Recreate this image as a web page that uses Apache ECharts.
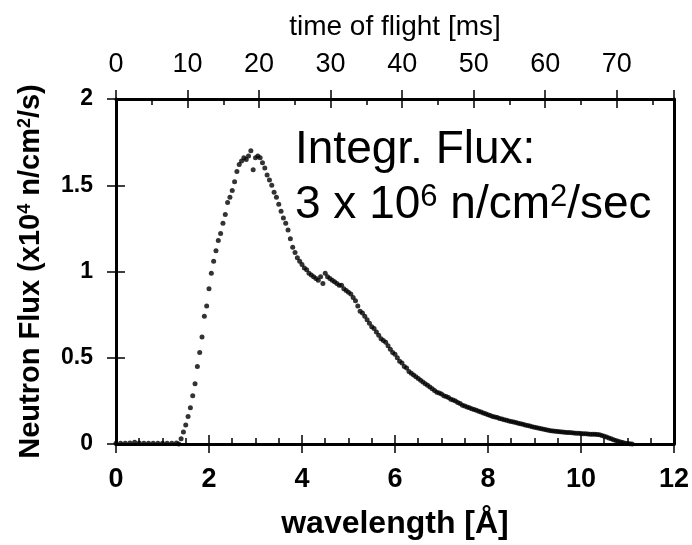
<!DOCTYPE html>
<html>
<head>
<meta charset="utf-8">
<script src="https://cdn.jsdelivr.net/npm/echarts@6/dist/echarts.min.js"></script>
<style>
html, body { margin: 0; padding: 0; background: #fff; }
#main { width: 692px; height: 545px; }
</style>
</head>
<body>
<div id="main"></div>
<script>
// wavelength [Å] of each measured point
const wavelength = [
  0, 0.1, 0.2, 0.3, 0.4, 0.5, 0.6, 0.7, 0.8, 0.9, 1.0, 1.1, 1.2, 1.3,
  1.35, 1.40, 1.45, 1.50, 1.55, 1.60, 1.65, 1.70, 1.75, 1.80, 1.85, 1.90, 1.95, 2.00, 2.05, 2.10, 2.15, 2.20, 2.25, 2.30,
  2.35, 2.40, 2.45, 2.50, 2.55, 2.60, 2.65, 2.70, 2.75, 2.80, 2.85, 2.90, 2.95, 3.00, 3.05, 3.10, 3.15, 3.20, 3.25, 3.30,
  3.35, 3.40, 3.45, 3.50, 3.55, 3.60, 3.65, 3.70, 3.75, 3.80, 3.85, 3.90, 3.95, 4.00, 4.05, 4.10, 4.15, 4.20, 4.25, 4.30,
  4.35, 4.40, 4.45, 4.50, 4.55, 4.60, 4.65, 4.70, 4.75, 4.80, 4.85, 4.90, 4.95, 5.00, 5.05, 5.10, 5.15, 5.20, 5.25, 5.30,
  5.35, 5.40, 5.45, 5.50, 5.55, 5.60, 5.65, 5.70, 5.75, 5.80, 5.85, 5.90, 5.95, 6.00, 6.05, 6.10, 6.15, 6.20, 6.25, 6.30,
  6.35, 6.40, 6.45, 6.50, 6.55, 6.60, 6.65, 6.70, 6.75, 6.80, 6.85, 6.90, 6.95, 7.00, 7.05, 7.10, 7.15, 7.20, 7.25, 7.30,
  7.35, 7.40, 7.45, 7.50, 7.55, 7.60, 7.65, 7.70, 7.75, 7.80, 7.85, 7.90, 7.95, 8.00, 8.05, 8.10, 8.15, 8.20, 8.25, 8.30,
  8.35, 8.40, 8.45, 8.50, 8.55, 8.60, 8.65, 8.70, 8.75, 8.80, 8.85, 8.90, 8.95, 9.00, 9.05, 9.10, 9.15, 9.20, 9.25, 9.30,
  9.35, 9.40, 9.45, 9.50, 9.55, 9.60, 9.65, 9.70, 9.75, 9.80, 9.85, 9.90, 9.95, 10.00, 10.05, 10.10, 10.15, 10.20, 10.25, 10.30,
  10.35, 10.40, 10.45, 10.50, 10.55, 10.60, 10.65, 10.70, 10.75, 10.80, 10.85, 10.90, 10.95, 11.00, 11.05, 11.10
]
// neutron flux (x10^4 n/cm2/s) at each wavelength
const flux = [
  0.004, 0.005, 0.004, 0.006, 0.010, 0.006, 0.005, 0.004, 0.005, 0.004, 0.005, 0.004, 0.005, 0.006,
  0.00, 0.03, 0.07, 0.11, 0.16, 0.21, 0.28, 0.35, 0.45, 0.53, 0.62, 0.74, 0.80, 0.90, 0.99, 1.06, 1.12, 1.18, 1.22, 1.28,
  1.33, 1.40, 1.43, 1.47, 1.52, 1.58, 1.62, 1.64, 1.66, 1.65, 1.67, 1.70, 1.59, 1.66, 1.67, 1.66, 1.63, 1.60, 1.56, 1.53,
  1.50, 1.46, 1.43, 1.39, 1.35, 1.31, 1.28, 1.24, 1.19, 1.14, 1.11, 1.08, 1.06, 1.04, 1.02, 1.01, 0.99, 0.98, 0.97, 0.96,
  0.95, 0.97, 0.93, 0.99, 0.97, 0.96, 0.95, 0.94, 0.93, 0.92, 0.92, 0.90, 0.89, 0.88, 0.87, 0.85, 0.83, 0.80, 0.77, 0.76,
  0.74, 0.72, 0.70, 0.68, 0.67, 0.65, 0.63, 0.61, 0.60, 0.59, 0.57, 0.55, 0.53, 0.52, 0.50, 0.48, 0.47, 0.45, 0.44, 0.42,
  0.41, 0.40, 0.39, 0.38, 0.37, 0.36, 0.35, 0.34, 0.33, 0.32, 0.31, 0.30, 0.295, 0.29, 0.28, 0.275, 0.27, 0.26, 0.255, 0.25,
  0.24, 0.235, 0.225, 0.22, 0.215, 0.21, 0.205, 0.20, 0.195, 0.19, 0.185, 0.18, 0.175, 0.17, 0.165, 0.16, 0.157, 0.153, 0.148, 0.145,
  0.14, 0.137, 0.133, 0.13, 0.127, 0.124, 0.12, 0.117, 0.114, 0.11, 0.107, 0.104, 0.10, 0.097, 0.094, 0.091, 0.088, 0.085, 0.082, 0.079,
  0.077, 0.075, 0.074, 0.072, 0.071, 0.069, 0.068, 0.067, 0.066, 0.065, 0.064, 0.063, 0.062, 0.061, 0.060, 0.059, 0.058, 0.057, 0.057, 0.056,
  0.055, 0.053, 0.050, 0.045, 0.040, 0.035, 0.030, 0.025, 0.020, 0.016, 0.012, 0.008, 0.005, 0.003, 0.001, 0.000
]
const wavelengthTicks = [0, 2, 4, 6, 8, 10, 12]
const fluxTicks = [0, 0.5, 1, 1.5, 2]
const timeTicks = [0, 10, 20, 30, 40, 50, 60, 70]
const timeMax = 78

const font = "'Liberation Sans', Arial, sans-serif"
const black = '#000'

const chartDom = document.getElementById('main')
const myChart = echarts.init(chartDom)

const points = wavelength.map(function (w, i) {
  return [w, flux[i]]
})

const step = function (ticks) {
  return ticks[1] - ticks[0]
}

// a plain axis only carrying inside ticks, to make ticks that cross the axis line
const innerTicks = function (extra) {
  return Object.assign({
    type: 'value',
    axisLine: { show: false, onZero: false },
    axisLabel: { show: false },
    splitLine: { show: false },
    axisTick: { inside: true, length: 9, lineStyle: { color: black, width: 1.5 } }
  }, extra)
}

const option = {
  animation: false,
  backgroundColor: '#fff',
  grid: {
    left: 116,
    right: 16,
    top: 99,
    bottom: 100
  },
  xAxis: [
    {
      type: 'value',
      position: 'bottom',
      min: wavelengthTicks[0],
      max: wavelengthTicks[wavelengthTicks.length - 1],
      interval: step(wavelengthTicks),
      name: 'wavelength [Å]',
      nameLocation: 'middle',
      nameGap: 64,
      nameTextStyle: { fontFamily: font, fontSize: 32, fontWeight: 'bold', color: black },
      axisLine: { onZero: false, lineStyle: { color: black, width: 3 } },
      axisTick: { length: 9, lineStyle: { color: black, width: 1.5 } },
      axisLabel: { margin: 22, fontFamily: font, fontSize: 27, fontWeight: 'bold', color: black },
      splitLine: { show: false }
    },
    innerTicks({
      position: 'bottom',
      min: wavelengthTicks[0],
      max: wavelengthTicks[wavelengthTicks.length - 1],
      interval: step(wavelengthTicks),
      minorTick: { show: true, splitNumber: 4, length: 6, lineStyle: { color: black, width: 1.5 } }
    }),
    {
      type: 'value',
      position: 'top',
      min: timeTicks[0],
      max: timeMax,
      interval: step(timeTicks),
      name: 'time of flight [ms]',
      nameLocation: 'middle',
      nameGap: 58,
      nameTextStyle: { fontFamily: font, fontSize: 28, color: black },
      axisLine: { onZero: false, lineStyle: { color: black, width: 3 } },
      axisTick: { length: 9, lineStyle: { color: black, width: 1.5 } },
      axisLabel: {
        margin: 21,
        fontFamily: font,
        fontSize: 27,
        color: black,
        formatter: function (v) {
          return timeTicks.indexOf(v) !== -1 ? String(v) : ''
        }
      },
      splitLine: { show: false }
    },
    innerTicks({
      position: 'top',
      min: timeTicks[0],
      max: timeMax,
      interval: step(timeTicks),
      minorTick: { show: true, splitNumber: 2, length: 6, lineStyle: { color: black, width: 1.5 } }
    })
  ],
  yAxis: [
    {
      type: 'value',
      position: 'left',
      min: fluxTicks[0],
      max: fluxTicks[fluxTicks.length - 1],
      interval: step(fluxTicks),
      name: 'Neutron Flux (x10{sup|4} n/cm{sup|2}/s)',
      nameLocation: 'middle',
      nameGap: 71,
      nameTextStyle: {
        fontFamily: font,
        fontSize: 29,
        fontWeight: 'bold',
        color: black,
        rich: {
          sup: { fontFamily: font, fontSize: 18, fontWeight: 'bold', color: black, verticalAlign: 'top' }
        }
      },
      axisLine: { onZero: false, lineStyle: { color: black, width: 3 } },
      axisTick: { length: 9, lineStyle: { color: black, width: 1.5 } },
      axisLabel: { margin: 23, fontFamily: font, fontSize: 23, fontWeight: 'bold', color: black },
      splitLine: { show: false }
    },
    innerTicks({
      position: 'left',
      min: fluxTicks[0],
      max: fluxTicks[fluxTicks.length - 1],
      interval: step(fluxTicks)
    }),
    {
      type: 'value',
      position: 'right',
      min: fluxTicks[0],
      max: fluxTicks[fluxTicks.length - 1],
      axisLine: { show: true, onZero: false, lineStyle: { color: black, width: 3 } },
      axisTick: { show: false },
      axisLabel: { show: false },
      splitLine: { show: false }
    }
  ],
  series: [
    {
      name: 'flux',
      type: 'scatter',
      xAxisIndex: 0,
      yAxisIndex: 0,
      symbol: 'circle',
      symbolSize: 5,
      itemStyle: { color: black },
      data: points
    }
  ],
  graphic: [
    {
      type: 'text',
      left: 295,
      top: 127,
      style: {
        text: 'Integr. Flux:',
        fontFamily: font,
        fontSize: 46,
        fill: black
      }
    },
    {
      type: 'text',
      left: 295,
      top: 182,
      style: {
        text: '3 x 10{sup|6} n/cm{sup|2}/sec',
        fontFamily: font,
        fontSize: 46,
        fill: black,
        rich: {
          sup: { fontFamily: font, fontSize: 31, fill: black, verticalAlign: 'top' }
        }
      }
    }
  ]
}

myChart.setOption(option)
window.addEventListener('resize', () => {
  myChart.resize()
})
</script>
</body>
</html>
